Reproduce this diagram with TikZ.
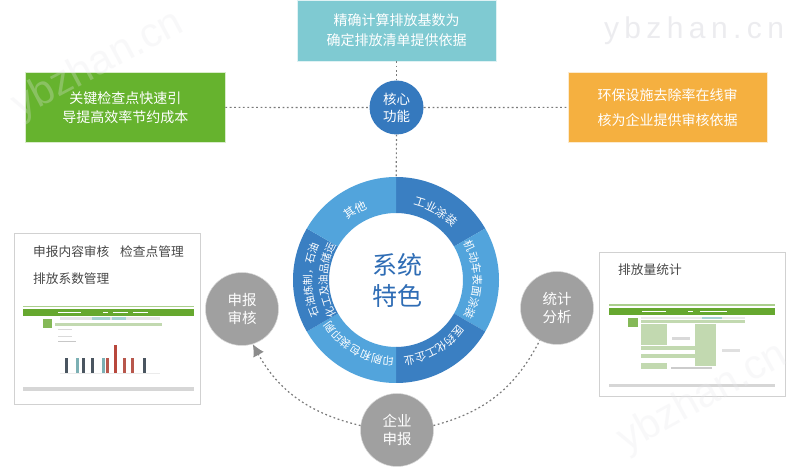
\documentclass[tikz,border=0pt]{standalone}
\usepackage{fontspec}
\setmainfont{Noto Sans CJK SC}
\newfontfamily\wmfont{Liberation Sans}
\usetikzlibrary{arrows.meta,decorations.text,calc}
\definecolor{ringdark}{HTML}{3A7FC2}
\definecolor{ringlight}{HTML}{52A4DC}
\definecolor{corecol}{HTML}{3579BE}
\definecolor{topcol}{HTML}{7FCAD2}
\definecolor{greencol}{HTML}{66B32E}
\definecolor{orangecol}{HTML}{F5B040}
\definecolor{graycirc}{HTML}{A0A0A0}
\definecolor{titlecol}{HTML}{2F6DB5}
\definecolor{barband}{HTML}{66A82F}
\definecolor{formgreen}{HTML}{C2D9B0}
\definecolor{wm}{HTML}{E8E8EC}
\tikzset{
  x=1pt,y=1pt,
  infobox/.style={rectangle,draw=white!75!#1,line width=.5pt,fill=#1,text=white,minimum width=199.5pt,minimum height=69.5pt,align=center,inner sep=0pt},
  greybubble/.style={circle,fill=graycirc,draw=white!85!black,line width=.5pt,text=white,minimum size=73pt,inner sep=0pt,align=center,font=\fontsize{14.5}{18}\selectfont},
  panel/.style={rectangle,draw=white!82!black,line width=1pt,fill=white,inner sep=0pt},
  paneltext/.style={anchor=west,inner sep=0pt,text=black!72,font=\fontsize{12.7}{15}\selectfont},
  dots/.style={draw=black!52,line width=1.2pt,dash pattern=on 1.8pt off 2.6pt},
  watermark/.style={text=wm,opacity=.28,inner sep=0pt,font=\wmfont\fontsize{41}{41}\selectfont},
}
\newcommand{\ringlabel}[4]{%
  \path[decorate,decoration={text along path,text align=center,
    text={|\color{white}\fontsize{#4}{#4}\selectfont|#1}}]
    (#2+40:#3) arc (#2+40:#2-40:#3);}
\begin{document}
\begin{tikzpicture}
\useasboundingbox (0,0) rectangle (800,476);
\fill[white] (0,0) rectangle (800,476);

% ring
\begin{scope}[shift={(396,196)}]
\foreach \a/\b/\c in {90/30/ringdark,30/-30/ringlight,-30/-90/ringdark,-90/-150/ringlight,-150/-210/ringdark,-210/-270/ringlight}{
  \fill[\c] (\a:103) arc (\a:\b:103) -- (\b:67) arc (\b:\a:67) -- cycle;
}
\ringlabel{工业涂装}{60}{77}{11.5}
\ringlabel{机动车表面涂装}{0}{77}{11}
\ringlabel{医药化工企业}{-60}{77}{11}
\ringlabel{印刷和包装印刷}{-120}{77}{11}
\ringlabel{石油炼制，石油}{-180}{84.5}{10.5}
\ringlabel{化工及油品储运}{-180}{69}{10.5}
\ringlabel{其他}{120}{77}{11.5}
\end{scope}
\node[circle,minimum size=206pt,inner sep=0pt] (ring) at (396,196) {};
\node[text=titlecol,align=center,inner sep=0pt,font=\fontsize{25}{31}\selectfont] (title) at (397,196) {系统\\特色};

% function boxes
\node[infobox=topcol,minimum width=199pt,minimum height=61pt,font=\fontsize{14}{20}\selectfont] (topbox) at (396.5,445.5) {精确计算排放基数为\\确定排放清单提供依据};
\node[infobox=greencol,font=\fontsize{14}{19}\selectfont] (greenbox) at (125.3,368.7) {关键检查点快速引\\导提高效率节约成本};
\node[infobox=orangecol,font=\fontsize{14}{25}\selectfont] (orangebox) at (667.5,368.7) {环保设施去除率在线审\\核为企业提供审核依据};
\node[circle,fill=corecol,text=white,minimum size=54pt,inner sep=0pt,align=center,font=\fontsize{13.5}{17}\selectfont] (core) at (396.5,368.5) {核心\\功能};

% panels
\node[panel,minimum width=186pt,minimum height=171pt] (leftpanel) at (107,156.5) {};
\node[panel,minimum width=186pt,minimum height=144pt] (rightpanel) at (692,151) {};
\node[paneltext] (lt1) at (33,224) {申报内容审核};
\node[paneltext] (lt2) at (120,224) {检查点管理};
\node[paneltext] (lt3) at (33,197) {排放系数管理};
\node[paneltext] (rt1) at (618,206) {排放量统计};

% left screenshot
\fill[barband!55!white] (23,169.3) rectangle (194,170.3);
\fill[barband] (23,160) rectangle (194,167);
\fill[white!60] (58,162.8) rectangle (81,164.2);
\fill[white!60] (103,162.8) rectangle (108,164.2);
\fill[white!60] (113,162.8) rectangle (128,164.2);
\fill[white!60] (133,162.8) rectangle (148,164.2);
\fill[black!10] (60,156) rectangle (160,158.5);
\fill[teal!35] (92,156) rectangle (110,158.5);
\fill[teal!35] (112,156) rectangle (126,158.5);
\fill[barband!80] (43,148) rectangle (52,157);
\fill[formgreen] (55,150) rectangle (162,153);
\fill[black!15] (58,146) rectangle (72,147);
\fill[black!15] (58,139) rectangle (72,140);
\fill[black!22] (58,134) rectangle (76,135.3);
\draw[black!8] (60,103) -- (160,103);
\foreach \x/\t/\c in {66/118/4A5560,77/118/7CB0B4,83/118/4A5560,92/118/4A5560,103/118/7CB0B4,107/118/B8574C,115/131/B8473C,124/118/B8574C,132/118/B8574C,144/118/4A5560}{
  \definecolor{barc}{HTML}{\c}
  \fill[barc] (\x-1.5,103) rectangle (\x+1.5,\t);
}
\fill[black!16] (23,85) rectangle (194,89);

% right screenshot
\fill[barband!55!white] (609,170) rectangle (775,172);
\fill[barband] (609,161) rectangle (775,168);
\fill[white!60] (642,163.8) rectangle (666,165.2);
\fill[white!60] (688,163.8) rectangle (693,165.2);
\fill[white!60] (700,163.8) rectangle (727,165.2);
\fill[black!8] (641,157) rectangle (745,159);
\fill[teal!35] (702,157) rectangle (722,159);
\fill[barband!80] (628,149) rectangle (638,158);
\fill[formgreen] (641,153) rectangle (745,156);
\fill[formgreen] (641,131) rectangle (667,152);
\fill[formgreen] (695,110) rectangle (716,152);
\fill[formgreen] (641,126) rectangle (695,130);
\fill[formgreen] (641,118) rectangle (695,122);
\fill[formgreen] (641,107) rectangle (667,113);
\fill[black!15] (672,136) rectangle (690,139);
\fill[black!20] (671,107) rectangle (712,108.5);
\fill[black!12] (722,124) rectangle (740,127);
\fill[black!16] (609,89) rectangle (775,92);

% bubbles
\node[greybubble] (review) at (242,167) {申报\\审核};
\node[greybubble] (stats) at (557,168) {统计\\分析};
\node[greybubble] (report) at (397,46) {企业\\申报};

% connectors
\draw[dots] (topbox) -- (core);
\draw[dots] (core) -- (ring);
\draw[dots] (greenbox) -- (core);
\draw[dots] (core) -- (orangebox);
\draw[dots,-{Latex[length=12pt,width=12pt,fill=black!45,color=black!45]}] (report.173) to[bend left=24] (review.-73);
\draw[dots] (report.7) to[bend right=24] (stats.-118);

% watermarks
\node[watermark,rotate=28] (wm1) at (98,411) {ybzhan.cn};
\node[watermark,rotate=29] (wm2) at (703,78) {ybzhan.cn};
\node[text=wm,opacity=.8,inner sep=0pt,font=\wmfont\fontsize{30}{30}\selectfont\addfontfeature{LetterSpace=18}] (wm3) at (694,445) {ybzhan.cn};
\end{tikzpicture}
\end{document}
